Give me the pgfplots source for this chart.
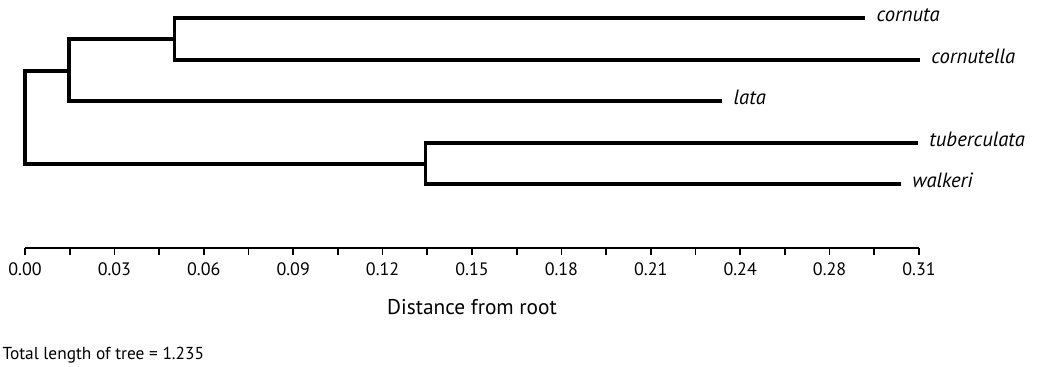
\documentclass[border=0pt]{standalone}
\usepackage{fontspec}
\setmainfont{PT Sans}
\usepackage{pgfplots}
\pgfplotsset{compat=1.18}
\begin{document}
\begin{tikzpicture}
\useasboundingbox (-18.75pt,-89.25pt) rectangle (762.75pt,186pt);
\begin{axis}[
  at={(0pt,0pt)}, anchor=south west,
  scale only axis, width=670.5pt, height=186pt,
  xmin=0, xmax=0.31, ymin=0, ymax=248,
  clip=false,
  axis x line*=bottom, axis y line=none,
  axis line style={line width=1.5pt},
  xtick={0,0.031,0.062,0.093,0.124,0.155,0.186,0.217,0.248,0.279,0.31},
  xticklabels={0.00,0.03,0.06,0.09,0.12,0.15,0.18,0.21,0.24,0.28,0.31},
  minor x tick num=1,
  tick align=outside, xtick pos=bottom,
  major tick length=5.5pt, minor tick length=5.5pt,
  every tick/.style={line width=1.3pt, black},
  /pgf/number format/assume math mode=true,
  xticklabel style={font=\fontsize{13.5}{15}\selectfont, inner sep=0pt, yshift=-5.5pt},
  xlabel={Distance from root},
  xlabel style={at={(rel axis cs:0.5,0)}, anchor=center, yshift=-44.25pt, font=\fontsize{16}{19}\selectfont},
]
% tree branches (x = distance from root, y = vertical position)
\addplot[black, line width=2.3pt, line join=miter, mark=none] coordinates {(0.01526,177) (0,177) (0,84) (0.1389,84)};
\addplot[black, line width=2.3pt, line join=miter, mark=none] coordinates {(0.0520,209) (0.01526,209) (0.01526,147) (0.2417,147)};
\addplot[black, line width=2.3pt, line join=miter, mark=none] coordinates {(0.2913,230) (0.0520,230) (0.0520,188) (0.3103,188)};
\addplot[black, line width=2.3pt, line join=miter, mark=none] coordinates {(0.3096,105) (0.1389,105) (0.1389,64) (0.3037,64)};
% tip labels
\addplot[draw=none, mark=none, nodes near coords, point meta=explicit symbolic,
  nodes near coords align={anchor=base west},
  every node near coord/.append style={anchor=base west, inner sep=0pt, xshift=8.5pt, yshift=-3pt, font=\itshape\fontsize{15.5}{18}\selectfont}]
  table[meta=label] {
x y label
0.2913 230 cornuta
0.3103 188 cornutella
0.2417 147 lata
0.3096 105 tuberculata
0.3037 64 walkeri
};
\end{axis}
\node[anchor=base west, inner sep=0pt, font=\fontsize{13}{15}\selectfont] at (-17pt,-84pt) {Total length of tree = 1.235};
\end{tikzpicture}
\end{document}
